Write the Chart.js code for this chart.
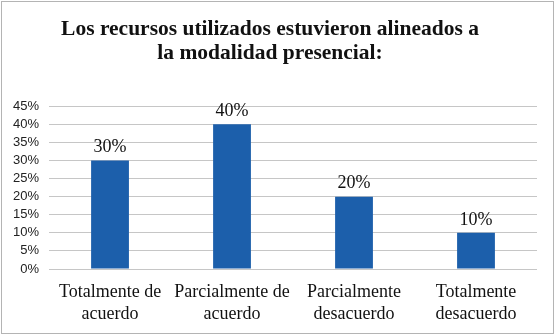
<!DOCTYPE html>
<html>
<head>
<meta charset="utf-8">
<script src="https://cdn.jsdelivr.net/npm/chart.js@4"></script>
<style>
  body { margin: 0; background: #fff; }
  #box { position: absolute; left: 1px; top: 1px; width: 551px; height: 331px; border: 1px solid #b4b4b4; }
  canvas { display: block; }
</style>
</head>
<body>
<div id="box"><canvas id="chart" width="551" height="331"></canvas></div>
<script>
const categories = [
  ['Totalmente de', 'acuerdo'],
  ['Parcialmente de', 'acuerdo'],
  ['Parcialmente', 'desacuerdo'],
  ['Totalmente', 'desacuerdo'],
]
const values = [0.30, 0.40, 0.20, 0.10]
const yTicks = [0, 0.05, 0.10, 0.15, 0.20, 0.25, 0.30, 0.35, 0.40, 0.45]
const titleLines = ['Los recursos utilizados estuvieron alineados a', 'la modalidad presencial:']

const serif = "'Liberation Serif', 'DejaVu Serif', serif"

// percent labels above each bar
const barLabels = {
  id: 'barLabels',
  afterDatasetsDraw(chart) {
    const ctx = chart.ctx
    const meta = chart.getDatasetMeta(0)
    ctx.save()
    ctx.font = '18px ' + serif
    ctx.fillStyle = '#111'
    ctx.textAlign = 'center'
    ctx.textBaseline = 'bottom'
    meta.data.forEach((bar, i) => {
      ctx.fillText(Math.round(values[i] * 100) + '%', bar.x, bar.y - 4)
    })
    ctx.restore()
  }
}

new Chart(document.getElementById('chart'), {
  type: 'bar',
  data: {
    labels: categories,
    datasets: [{
      data: values,
      backgroundColor: '#1c5fab',
      categoryPercentage: 1,
      barPercentage: 0.31,
    }]
  },
  options: {
    responsive: false,
    animation: false,
    layout: { padding: { left: 1, right: 16, top: 6, bottom: 0 } },
    plugins: {
      legend: { display: false },
      tooltip: { enabled: false },
      title: {
        display: true,
        text: titleLines,
        color: '#111',
        font: { family: serif, size: 21.5, weight: 'bold', lineHeight: 1.12 },
        padding: { top: 9, bottom: 41 },
      },
    },
    scales: {
      x: {
        afterFit(axis) { axis.height = 64 },
        grid: { display: false },
        border: { display: false },
        ticks: {
          color: '#111',
          font: { family: serif, size: 18, lineHeight: 1.22 },
          padding: 4,
          maxRotation: 0,
          autoSkip: false,
        },
      },
      y: {
        min: 0,
        max: 0.45,
        afterBuildTicks(axis) { axis.ticks = yTicks.map((v) => ({ value: v })) },
        grid: { color: '#c6c6c6', drawTicks: false },
        border: { display: false },
        ticks: {
          color: '#222',
          font: { family: "'Liberation Sans', Arial, sans-serif", size: 13 },
          padding: 10,
          autoSkip: false,
          callback: (v) => Math.round(v * 100) + '%',
        },
      },
    },
  },
  plugins: [barLabels],
})
</script>
</body>
</html>
